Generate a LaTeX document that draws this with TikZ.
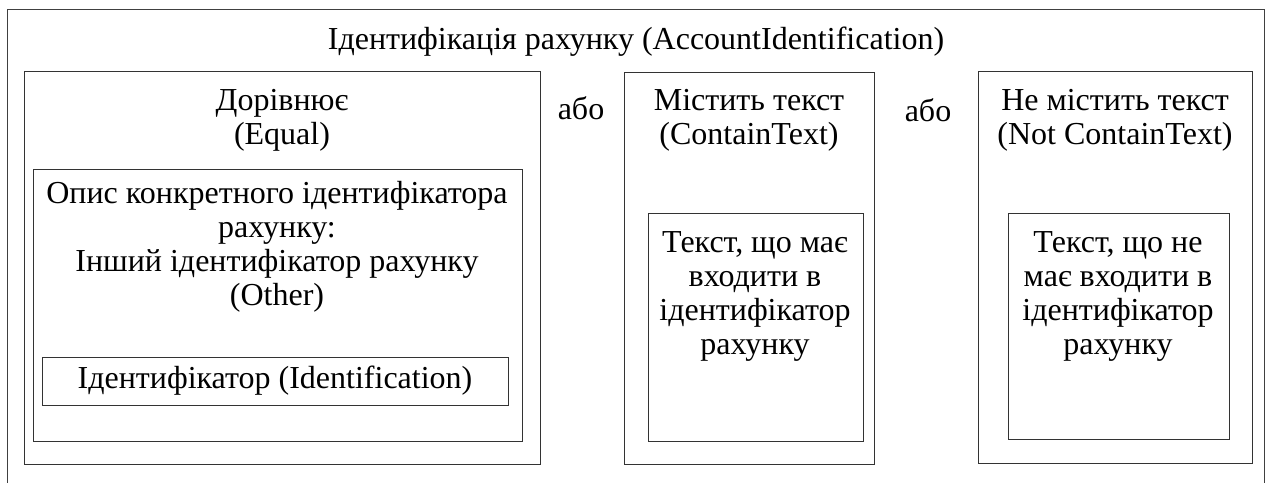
\documentclass[tikz,border=0pt]{standalone}
\usepackage{fontspec}
\setmainfont{Liberation Serif}
\begin{document}
\begin{tikzpicture}[x=1pt,y=-1pt,
  frame/.style={draw=black!80,line width=1pt,inner sep=0pt,outer sep=0pt},
  txt/.style={inner sep=0pt,align=center,font=\fontsize{32}{34}\selectfont}]
\useasboundingbox (0,0) rectangle (1269,482);
\draw[black!75,line width=1pt] (7,490) -- (7,9) -- (1264,9) -- (1264,490);
\node[txt] (title) at (636,42) {Ідентифікація рахунку (AccountIdentification)};
% box 1
\node[frame,minimum width=516pt,minimum height=393pt] (b1) at (282,267.5) {};
\node[txt] (t1) at (282,120) {Дорівнює\\(Equal)};
\node[frame,minimum width=489pt,minimum height=272pt] (b1i) at (277.5,305) {};
\node[txt] (t1i) at (277,247) {Опис конкретного ідентифікатора\\рахунку:\\Інший ідентифікатор рахунку\\(Other)};
\node[frame,minimum width=466pt,minimum height=48pt,font=\fontsize{32}{34}\selectfont] (idb) at (275,381) {Ідентифікатор (Identification)};
% or
\node[txt] (or1) at (581,108) {або};
\node[txt] (or2) at (928,110) {або};
% box 2
\node[frame,minimum width=250pt,minimum height=392pt] (b2) at (749,268) {};
\node[txt] (t2) at (749,120) {Містить текст\\(ContainText)};
\node[frame,minimum width=215pt,minimum height=228pt] (b2i) at (755.5,327) {};
\node[txt] (t2i) at (755,296) {Текст, що має\\входити в\\ідентифікатор\\рахунку};
% box 3
\node[frame,minimum width=274pt,minimum height=392pt] (b3) at (1115,267) {};
\node[txt] (t3) at (1115,120) {Не містить текст\\(Not ContainText)};
\node[frame,minimum width=221pt,minimum height=226pt] (b3i) at (1118.5,326) {};
\node[txt] (t3i) at (1118,296) {Текст, що не\\має входити в\\ідентифікатор\\рахунку};
\end{tikzpicture}
\end{document}
